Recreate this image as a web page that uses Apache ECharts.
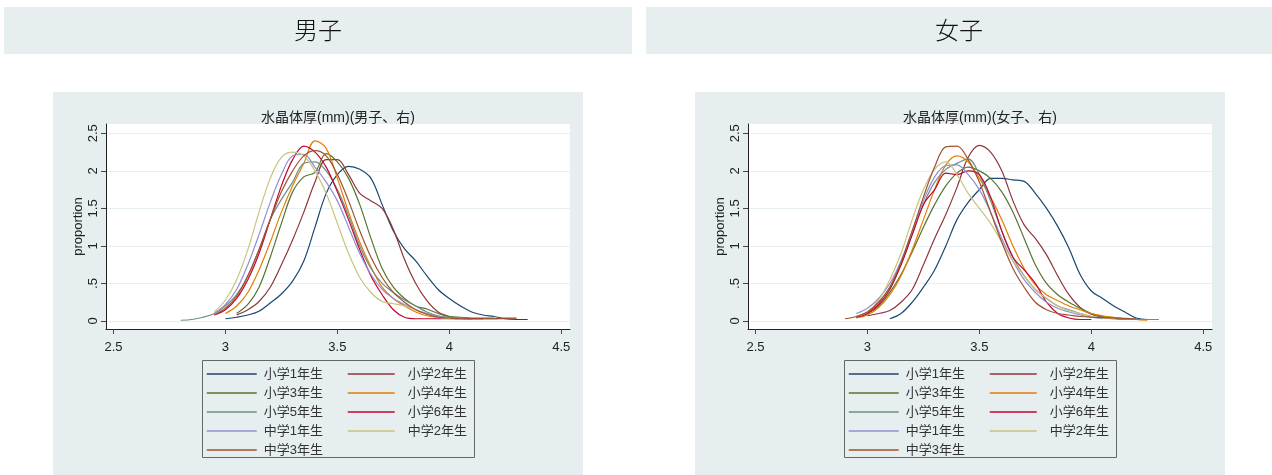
<!DOCTYPE html>
<html>
<head>
<meta charset="utf-8">
<script src="https://cdn.jsdelivr.net/npm/echarts@6/dist/echarts.min.js"></script>
<style>
html,body{margin:0;padding:0;background:#fff;}
#c{width:1272px;height:475px;}
</style>
</head>
<body>
<div id="c"></div>
<script>
// ---- data ----
const PANEL_HEADERS = ['男子', '女子'];
const PLOT_TITLES = ['水晶体厚(mm)(男子、右)', '水晶体厚(mm)(女子、右)'];
const SERIES_NAMES = ['小学1年生','小学2年生','小学3年生','小学4年生','小学5年生','小学6年生','中学1年生','中学2年生','中学3年生'];
const X_TICKS = [2.5, 3, 3.5, 4, 4.5];
const Y_TICKS = [0, 0.5, 1, 1.5, 2, 2.5];
const Y_LABEL = 'proportion';
// shared x grid (mm)
const XS = [2.80,2.85,2.90,2.95,3.00,3.05,3.10,3.15,3.20,3.25,3.30,3.35,3.40,3.45,3.50,3.55,3.60,3.65,3.70,3.75,3.80,3.85,3.90,3.95,4.00,4.05,4.10,4.15,4.20,4.25,4.30,4.35];
const n = null;
// male densities
const M1 = [n,n,n,n,0.03,0.05,0.08,0.13,0.24,0.36,0.53,0.8,1.25,1.7,1.95,2.06,2.02,1.9,1.55,1.2,0.96,0.8,0.6,0.42,0.3,0.2,0.12,0.08,0.06,0.03,0.02,0.02];
const M2 = [n,n,n,n,n,0.08,0.15,0.26,0.45,0.75,1.08,1.45,1.85,2.15,2.15,1.95,1.7,1.6,1.5,1.22,0.82,0.5,0.27,0.12,0.06,0.04,0.03,0.03,0.03,0.03,0.03,n];
const M3 = [n,n,n,n,n,0.1,0.22,0.45,0.85,1.3,1.72,1.92,1.98,2.23,2.12,1.9,1.55,1.1,0.7,0.45,0.3,0.2,0.16,0.1,0.06,0.05,0.04,0.04,0.04,n,n,n];
const M4 = [n,n,n,n,0.1,0.2,0.38,0.68,1.05,1.45,1.8,2.1,2.4,2.3,1.9,1.45,1.05,0.72,0.45,0.3,0.2,0.12,0.07,0.05,0.04,0.04,0.03,n,n,n,n,n];
const M5 = [0.01,0.02,0.05,0.1,0.2,0.35,0.6,0.95,1.35,1.62,1.85,2.1,2.12,2.0,1.75,1.4,1.0,0.7,0.5,0.38,0.28,0.2,0.12,0.07,0.05,0.04,0.03,n,n,n,n,n];
const M6 = [n,n,n,0.08,0.15,0.3,0.55,0.9,1.35,1.8,2.15,2.33,2.25,2.05,1.72,1.35,0.95,0.6,0.35,0.15,0.05,0.03,0.03,0.03,0.03,0.03,0.03,0.03,n,n,n,n];
const M7 = [n,n,n,0.1,0.22,0.42,0.75,1.15,1.58,1.95,2.2,2.22,2.05,1.85,1.6,1.25,0.9,0.62,0.42,0.3,0.22,0.15,0.1,0.06,0.04,0.03,0.02,n,n,n,n,n];
const M8 = [n,n,n,0.12,0.28,0.55,0.95,1.45,1.9,2.18,2.25,2.2,2.0,1.7,1.3,0.9,0.58,0.38,0.26,0.23,0.2,0.15,0.09,0.05,0.03,0.02,n,n,n,n,n,n];
const M9 = [n,n,n,0.08,0.17,0.33,0.6,0.95,1.35,1.72,2.0,2.2,2.27,2.2,1.95,1.6,1.2,0.85,0.58,0.38,0.25,0.15,0.09,0.05,0.04,0.03,0.03,0.03,0.03,0.04,0.04,n];
// female densities
const F1 = [n,n,n,n,n,n,0.03,0.1,0.25,0.45,0.68,1.0,1.35,1.58,1.75,1.9,1.9,1.88,1.86,1.7,1.5,1.26,0.97,0.62,0.4,0.3,0.2,0.12,0.04,0.02,0.02,n];
const F2 = [n,n,n,n,0.07,0.1,0.14,0.25,0.42,0.75,1.1,1.42,1.78,2.18,2.34,2.25,2.0,1.6,1.28,1.1,0.88,0.6,0.35,0.18,0.09,0.05,0.03,n,n,n,n,n];
const F3 = [n,n,n,0.05,0.1,0.2,0.38,0.62,0.92,1.25,1.55,1.8,1.97,2.05,2.0,1.9,1.72,1.45,1.1,0.75,0.5,0.35,0.25,0.17,0.1,0.06,0.04,0.02,n,n,n,n];
const F4 = [n,n,n,0.04,0.08,0.18,0.35,0.6,0.95,1.35,1.75,2.08,2.2,2.12,1.9,1.65,1.35,1.0,0.7,0.48,0.35,0.27,0.2,0.15,0.1,0.07,0.05,0.03,0.02,0.01,n,n];
const F5 = [n,n,n,0.06,0.12,0.25,0.45,0.75,1.15,1.55,1.85,2.02,2.1,2.16,1.95,1.6,1.2,0.85,0.6,0.42,0.3,0.2,0.15,0.1,0.06,0.04,0.03,0.02,0.02,0.02,0.02,n];
const F6 = [n,n,n,0.05,0.1,0.22,0.42,0.75,1.15,1.55,1.75,1.97,1.95,2.0,1.95,1.65,1.2,0.85,0.68,0.5,0.25,0.1,0.04,0.02,0.02,n,n,n,n,n,n,n];
const F7 = [n,n,n,0.1,0.17,0.3,0.5,0.8,1.2,1.6,1.92,2.07,2.08,1.95,1.75,1.45,1.1,0.8,0.55,0.38,0.25,0.17,0.12,0.08,0.05,0.03,n,n,n,n,n,n];
const F8 = [n,n,n,0.06,0.12,0.28,0.55,0.9,1.35,1.75,2.02,2.12,1.95,1.7,1.5,1.3,1.05,0.8,0.6,0.42,0.3,0.2,0.14,0.1,0.06,0.04,0.03,n,n,n,n,n];
const F9 = [n,n,0.03,0.06,0.12,0.25,0.45,0.78,1.2,1.65,2.05,2.32,2.33,2.15,1.85,1.45,1.05,0.7,0.45,0.25,0.15,0.1,0.08,0.06,0.05,0.045,0.04,0.035,0.03,n,n,n];
const MALE = [M1,M2,M3,M4,M5,M6,M7,M8,M9];
const FEMALE = [F1,F2,F3,F4,F5,F6,F7,F8,F9];

// ---- style ----
const COLORS = ['#1a476f','#90353b','#55752f','#e37e00','#6e8e84','#c10534','#938dd2','#cac27e','#a0522d'];
const FONT = '"Liberation Sans", "Noto Sans CJK JP", sans-serif';
const BG = '#e6eef0';
const TXT = '#222';
const DX = 642; // horizontal offset of the right panel

function pairs(ys){ const out=[]; ys.forEach((y,i)=>{ if(y!==null) out.push([XS[i], y]); }); return out; }

const grids = [0,1].map(p => ({left:106 + p*DX, top:124, width:464, height:205, show:true, backgroundColor:'#fff', borderWidth:0, containLabel:false}));

const xAxes = [0,1].map(p => ({
  type:'value', gridIndex:p, min:2.4665, max:4.539,
  axisLine:{show:true, onZero:false, lineStyle:{color:'#222', width:1}},
  axisTick:{show:true, length:5, inside:false, customValues:X_TICKS, lineStyle:{color:'#444'}},
  axisLabel:{customValues:X_TICKS, margin:12, fontSize:13, color:TXT, fontFamily:FONT, formatter:v=>String(v)},
  splitLine:{show:false}
}));
const yAxes = [0,1].map(p => ({
  type:'value', gridIndex:p, min:-0.1066, max:2.624,
  name:Y_LABEL, nameLocation:'middle', nameGap:21, nameRotate:90,
  nameTextStyle:{fontSize:13, color:TXT, fontFamily:FONT},
  axisLine:{show:true, onZero:false, lineStyle:{color:'#222', width:1}},
  axisTick:{show:true, length:5, inside:false, customValues:Y_TICKS, lineStyle:{color:'#444'}},
  axisLabel:{customValues:Y_TICKS, rotate:90, margin:6, fontSize:13, color:TXT, fontFamily:FONT,
    formatter:v=>String(v).replace(/^0\./,'.')},
  splitLine:{show:true, lineStyle:{color:'#e8eff2', width:1}}
}));

const series = [];
[MALE, FEMALE].forEach((set, p) => {
  set.forEach((ys, i) => {
    series.push({
      type:'line', name:SERIES_NAMES[i], xAxisIndex:p, yAxisIndex:p,
      data:pairs(ys), smooth:0.35, symbol:'none', showSymbol:false,
      lineStyle:{color:COLORS[i], width:1.2}, itemStyle:{color:COLORS[i]},
      emphasis:{disabled:true}, z:3
    });
  });
});

const COL1 = [0,2,4,6,8].map(i=>SERIES_NAMES[i]);
const COL2 = [1,3,5,7].map(i=>SERIES_NAMES[i]);
const legends = [];
[0,1].forEach(p => {
  const base = {orient:'vertical', top:367, itemHeight:14, itemGap:5, padding:0, selectedMode:false,
    itemStyle:{opacity:0, borderWidth:0},
    textStyle:{fontSize:13, color:'#333', fontFamily:FONT, lineHeight:14}, lineStyle:{width:1.5}, z:10};
  legends.push(Object.assign({}, base, {left:206 + p*DX, itemWidth:50, data:COL1,
    textStyle:Object.assign({}, base.textStyle, {padding:[0,0,0,2]})}));
  legends.push(Object.assign({}, base, {left:347 + p*DX, itemWidth:47, data:COL2,
    textStyle:Object.assign({}, base.textStyle, {padding:[0,0,0,8]})}));
});

const graphic = [];
[0,1].forEach(p => {
  // header strip
  graphic.push({type:'rect', z:-20, shape:{x:p? 646:4, y:7, width:p? 626:628, height:47}, style:{fill:BG}});
  graphic.push({type:'text', z:5, x:p? 959:318, y:30, style:{text:PANEL_HEADERS[p], fontSize:24, fontFamily:'"Noto Sans CJK JP", sans-serif', fontWeight:300, fill:'#111', align:'center', verticalAlign:'middle'}});
  // graph region
  graphic.push({type:'rect', z:-20, shape:{x:53 + p*DX, y:92, width:530, height:383}, style:{fill:BG}});
  // plot title
  graphic.push({type:'text', z:5, x:338 + p*DX, y:118, style:{text:PLOT_TITLES[p], fontSize:14, fontFamily:FONT, fill:TXT, align:'center', verticalAlign:'middle'}});
  // legend box
  graphic.push({type:'rect', z:1, shape:{x:202.5 + p*DX, y:360.5, width:272, height:97}, style:{fill:BG, stroke:'#666', lineWidth:1}});
});

const chart = echarts.init(document.getElementById('c'), null, {renderer:'canvas', width:1272, height:475});
chart.setOption({
  animation:false,
  backgroundColor:'#fff',
  grid:grids, xAxis:xAxes, yAxis:yAxes,
  legend:legends, series:series, graphic:graphic,
  tooltip:{show:false}
});
</script>
</body>
</html>
